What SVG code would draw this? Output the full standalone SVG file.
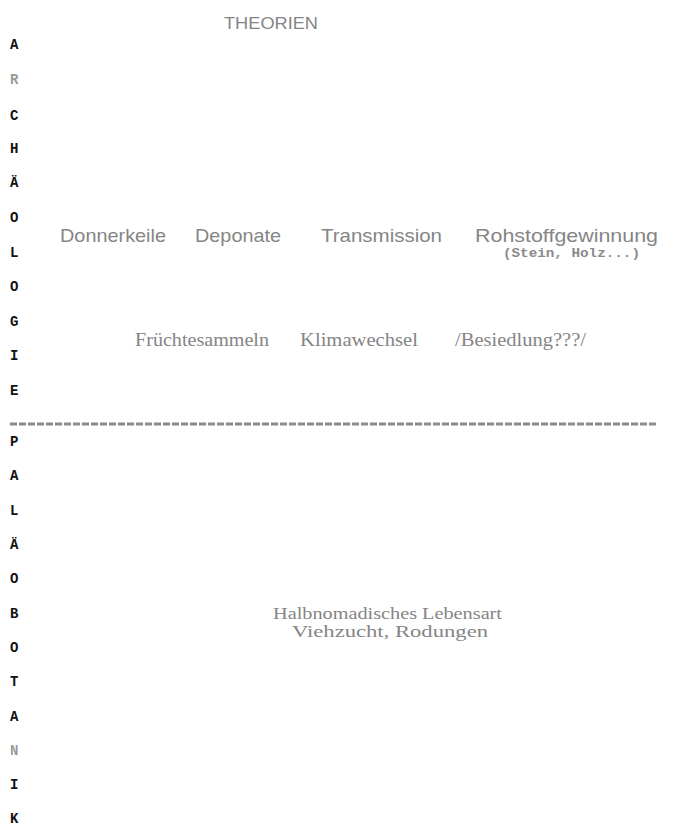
<svg xmlns="http://www.w3.org/2000/svg" width="674" height="827" viewBox="0 0 674 827">
<style>
.side{font-family:"Liberation Mono","DejaVu Sans Mono",monospace;font-weight:bold;font-size:14px;fill:#111}
.faint{fill:#9a9a9a}
.sans{font-family:"Liberation Sans",Arial,sans-serif;fill:#858585}
.serif{font-family:"Liberation Serif","Times New Roman",serif;fill:#858585}
.mono{font-family:"Liberation Mono","Courier New",monospace;font-weight:bold;fill:#8a8a8a}
</style>
<rect width="674" height="827" fill="#ffffff"/>
<g id="side-archaeologie" class="side">
<text x="10" y="49">A</text>
<text x="10" y="84" class="side faint">R</text>
<text x="10" y="120">C</text>
<text x="10" y="153">H</text>
<text x="10" y="187">Ä</text>
<text x="10" y="222">O</text>
<text x="10" y="257">L</text>
<text x="10" y="291">O</text>
<text x="10" y="326">G</text>
<text x="10" y="360">I</text>
<text x="10" y="395">E</text>
</g>
<g id="side-palaeobotanik" class="side">
<text x="10" y="446">P</text>
<text x="10" y="480">A</text>
<text x="10" y="515">L</text>
<text x="10" y="549">Ä</text>
<text x="10" y="583">O</text>
<text x="10" y="618">B</text>
<text x="10" y="652">O</text>
<text x="10" y="686">T</text>
<text x="10" y="721">A</text>
<text x="10" y="755" class="side faint">N</text>
<text x="10" y="789">I</text>
<text x="10" y="823">K</text>
</g>
<g id="title"><text class="sans" x="224" y="29" font-size="17" textLength="94" lengthAdjust="spacingAndGlyphs">THEORIEN</text></g>
<g id="donnerkeile"><text class="sans" x="60" y="242" font-size="19" textLength="106" lengthAdjust="spacingAndGlyphs">Donnerkeile</text></g>
<g id="deponate"><text class="sans" x="195" y="242" font-size="19" textLength="86" lengthAdjust="spacingAndGlyphs">Deponate</text></g>
<g id="transmission"><text class="sans" x="321" y="242" font-size="19" textLength="121" lengthAdjust="spacingAndGlyphs">Transmission</text></g>
<g id="rohstoffgewinnung">
<text class="sans" x="475" y="242" font-size="19" textLength="183" lengthAdjust="spacingAndGlyphs">Rohstoffgewinnung</text>
<text class="mono" x="503" y="257" font-size="13" textLength="137" lengthAdjust="spacingAndGlyphs">(Stein, Holz...)</text>
</g>
<g id="fruechtesammeln"><text class="serif" x="135" y="346" font-size="19" textLength="134" lengthAdjust="spacingAndGlyphs">Früchtesammeln</text></g>
<g id="klimawechsel"><text class="serif" x="300" y="346" font-size="19" textLength="118" lengthAdjust="spacingAndGlyphs">Klimawechsel</text></g>
<g id="besiedlung"><text class="serif" x="455" y="346" font-size="19" textLength="131" lengthAdjust="spacingAndGlyphs">/Besiedlung???/</text></g>
<g id="separator"><line x1="10" y1="424" x2="657" y2="424" stroke="#8a8a8a" stroke-width="3" stroke-dasharray="7 2"/></g>
<g id="halbnomadisch">
<text class="serif" x="273" y="619" font-size="16" textLength="229" lengthAdjust="spacingAndGlyphs">Halbnomadisches Lebensart</text>
<text class="serif" x="292" y="637" font-size="16" textLength="196" lengthAdjust="spacingAndGlyphs">Viehzucht, Rodungen</text>
</g>
</svg>
